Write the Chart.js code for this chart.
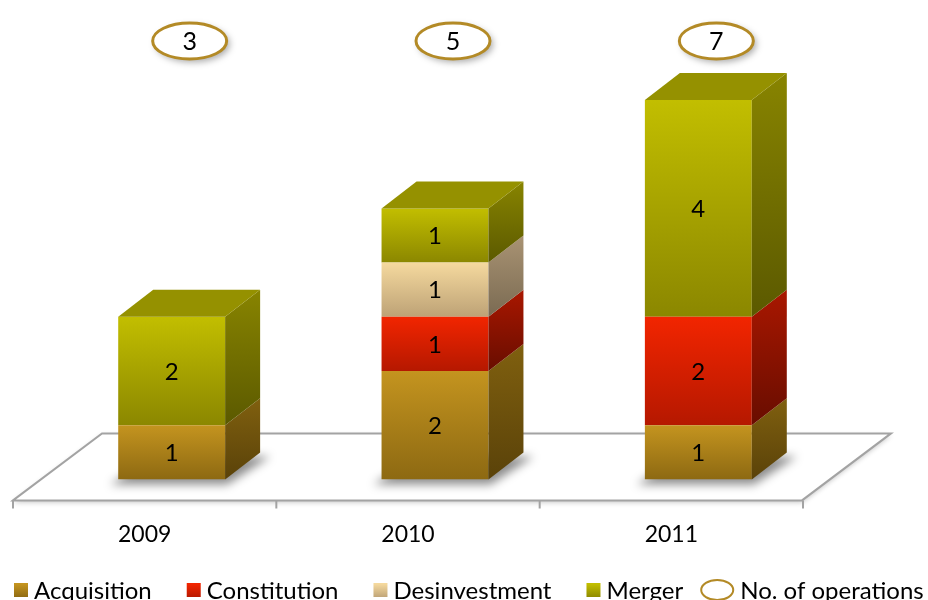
<!DOCTYPE html>
<html lang="en">

<head>
  <meta charset="UTF-8">
  <title>Operations 2009-2011</title>
  <style>
    html,
    body {
      margin: 0;
      padding: 0;
      background: #fff;
      overflow: hidden;
    }

    #wrap {
      width: 928px;
      height: 600px;
    }
  </style>
  <script src="https://cdn.jsdelivr.net/npm/chart.js@4.4.4/dist/chart.umd.js"></script>
</head>

<body>
  <div id="wrap">
    <canvas id="chart_1"></canvas>
  </div>
</body>
<script>
  // values
  const years = ['2009', '2010', '2011'];
  const acquisition = [1, 2, 1];
  const constitution = [0, 1, 2];
  const desinvestment = [0, 1, 0];
  const merger = [2, 1, 4];
  const operations = [3, 5, 7];

  const FONT = 'Lato, "Open Sans", sans-serif';
  const DX = 35, DY = -27;   // depth of the boxes

  // front top/bottom, side top/bottom, top face
  const palette = [
    { front: ['#c4941f', '#8d6912'], side: ['#80600f', '#5a4209'], top: '#9a7414' },
    { front: ['#f22500', '#b51800'], side: ['#a91700', '#680d00'], top: '#c41c00' },
    { front: ['#f5d99e', '#bda276'], side: ['#a99373', '#7a6a52'], top: '#c9b083' },
    { front: ['#c2be00', '#8b8700'], side: ['#888400', '#5b5900'], top: '#959100' }
  ];

  function frontFill(k) {
    return (c) => {
      const y = c.chart.scales.y;
      if (!y || c.type !== 'data') return palette[k].front[0];
      let base = 0;
      for (let d = 0; d < c.datasetIndex; d++) base += c.chart.data.datasets[d].data[c.dataIndex];
      const top = base + c.chart.data.datasets[c.datasetIndex].data[c.dataIndex];
      const y1 = y.getPixelForValue(top), y2 = y.getPixelForValue(base);
      if (!isFinite(y1) || !isFinite(y2) || y1 === y2) return palette[k].front[0];
      const g = c.chart.ctx.createLinearGradient(0, y1, 0, y2);
      g.addColorStop(0, palette[k].front[0]);
      g.addColorStop(1, palette[k].front[1]);
      return g;
    };
  }

  const box3d = {
    id: 'box3d',
    beforeDatasetsDraw(chart) {
      const { ctx, scales: { x, y } } = chart;
      const y0 = y.getPixelForValue(0);
      const step = x.getPixelForValue(1) - x.getPixelForValue(0);
      const fl = x.getPixelForValue(0) - step / 2 - 27;
      const fr = x.getPixelForValue(years.length - 1) + step / 2 - 28;
      const fy = y0 + 21, by = y0 - 46, fdx = 89;

      ctx.save();
      // floor
      ctx.beginPath();
      ctx.moveTo(fl, fy);
      ctx.lineTo(fl + fdx, by);
      ctx.lineTo(fr + fdx, by);
      ctx.lineTo(fr, fy);
      ctx.closePath();
      ctx.shadowColor = 'rgba(0,0,0,0.22)';
      ctx.shadowBlur = 5;
      ctx.shadowOffsetY = 2;
      ctx.fillStyle = '#fff';
      ctx.fill();
      ctx.shadowColor = 'transparent';
      ctx.strokeStyle = '#a3a3a3';
      ctx.lineWidth = 2;
      ctx.stroke();
      // ticks
      ctx.beginPath();
      for (let i = 0; i <= years.length; i++) {
        const tx = fl + i * step;
        ctx.moveTo(tx, fy);
        ctx.lineTo(tx, fy + 8);
      }
      ctx.stroke();
      // soft shadows under the boxes
      ctx.filter = 'blur(5px)';
      ctx.fillStyle = 'rgba(0,0,0,0.45)';
      chart.getDatasetMeta(0).data.forEach(bar => {
        const l = bar.x - bar.width / 2, r = bar.x + bar.width / 2;
        ctx.beginPath();
        ctx.moveTo(l - 8, y0 + 5);
        ctx.lineTo(r + 2, y0 + 5);
        ctx.lineTo(r + DX + 10, y0 + DY + 4);
        ctx.lineTo(l + DX, y0 + DY + 4);
        ctx.closePath();
        ctx.fill();
      });
      ctx.restore();
    },
    afterDatasetsDraw(chart) {
      const { ctx } = chart;
      const n = chart.data.datasets.length;
      ctx.save();
      for (let d = 0; d < n; d++) {
        const ds = chart.data.datasets[d];
        chart.getDatasetMeta(d).data.forEach((bar, i) => {
          if (!ds.data[i]) return;
          const l = bar.x - bar.width / 2, r = bar.x + bar.width / 2;
          const t = bar.y, b = bar.base;
          // side face
          const g = ctx.createLinearGradient(0, t + DY, 0, b);
          g.addColorStop(0, palette[d].side[0]);
          g.addColorStop(1, palette[d].side[1]);
          ctx.fillStyle = g;
          ctx.beginPath();
          ctx.moveTo(r, t);
          ctx.lineTo(r + DX, t + DY);
          ctx.lineTo(r + DX, b + DY);
          ctx.lineTo(r, b);
          ctx.closePath();
          ctx.fill();
          // top face on the highest segment
          let above = 0;
          for (let k = d + 1; k < n; k++) above += chart.data.datasets[k].data[i];
          if (!above) {
            ctx.fillStyle = palette[d].top;
            ctx.beginPath();
            ctx.moveTo(l, t);
            ctx.lineTo(l + DX, t + DY);
            ctx.lineTo(r + DX, t + DY);
            ctx.lineTo(r, t);
            ctx.closePath();
            ctx.fill();
          }
          // value label
          ctx.fillStyle = '#000';
          ctx.font = '24px ' + FONT;
          ctx.textAlign = 'center';
          ctx.textBaseline = 'middle';
          ctx.fillText(ds.data[i], bar.x, (t + b) / 2 + 1);
        });
      }
      ctx.restore();
    },
    afterDraw(chart) {
      const { ctx, chartArea, scales: { x } } = chart;
      ctx.save();
      // No. of operations bubbles
      operations.forEach((v, i) => {
        const cx = x.getPixelForValue(i) + 18, cy = chartArea.top - 59;
        ctx.beginPath();
        ctx.ellipse(cx, cy, 37, 18, 0, 0, Math.PI * 2);
        ctx.shadowColor = 'rgba(0,0,0,0.35)';
        ctx.shadowBlur = 7;
        ctx.shadowOffsetX = 3;
        ctx.shadowOffsetY = 3;
        ctx.fillStyle = '#fff';
        ctx.fill();
        ctx.shadowColor = 'transparent';
        ctx.strokeStyle = '#b38a26';
        ctx.lineWidth = 3;
        ctx.stroke();
        ctx.fillStyle = '#000';
        ctx.font = '25px ' + FONT;
        ctx.textAlign = 'center';
        ctx.textBaseline = 'middle';
        ctx.fillText(v, cx, cy + 1);
      });

      // legend
      ctx.font = '24px ' + FONT;
      ctx.textAlign = 'left';
      ctx.textBaseline = 'middle';
      const ly = 591;
      let cur = 14;
      chart.data.datasets.forEach((ds, d) => {
        const g = ctx.createLinearGradient(0, ly - 7, 0, ly + 7);
        g.addColorStop(0, palette[d].front[0]);
        g.addColorStop(1, palette[d].front[1]);
        ctx.fillStyle = g;
        ctx.fillRect(cur, ly - 8, 14, 14);
        ctx.fillStyle = '#000';
        ctx.fillText(ds.label, cur + 20, ly);
        cur += 20 + ctx.measureText(ds.label).width + 35;
      });
      cur -= 17;
      ctx.beginPath();
      ctx.ellipse(cur + 16, ly - 1, 16, 10, 0, 0, Math.PI * 2);
      ctx.strokeStyle = '#b38a26';
      ctx.lineWidth = 2;
      ctx.stroke();
      ctx.fillStyle = '#000';
      ctx.fillText('No. of operations', cur + 39, ly);
      ctx.restore();
    }
  };

  const series = [
    ['Acquisition', acquisition],
    ['Constitution', constitution],
    ['Desinvestment', desinvestment],
    ['Merger', merger]
  ];

  new Chart('chart_1', {
    type: 'bar',
    data: {
      labels: years,
      datasets: series.map(([label, data], k) => ({
        label,
        data,
        backgroundColor: frontFill(k),
        borderWidth: 0,
        barPercentage: 0.406,
        categoryPercentage: 1
      }))
    },
    options: {
      responsive: true,
      maintainAspectRatio: false,
      animation: false,
      events: [],
      layout: {
        padding: { left: 40, right: 98, top: 100, bottom: 19 }
      },
      plugins: {
        legend: { display: false },
        tooltip: { enabled: false }
      },
      scales: {
        x: {
          stacked: true,
          grid: { display: false },
          border: { display: false },
          ticks: {
            padding: 33,
            labelOffset: -27,
            color: '#000',
            font: { family: FONT, size: 23 }
          }
        },
        y: {
          stacked: true,
          display: false,
          min: 0,
          max: 7
        }
      }
    },
    plugins: [box3d]
  });
</script>

</html>
